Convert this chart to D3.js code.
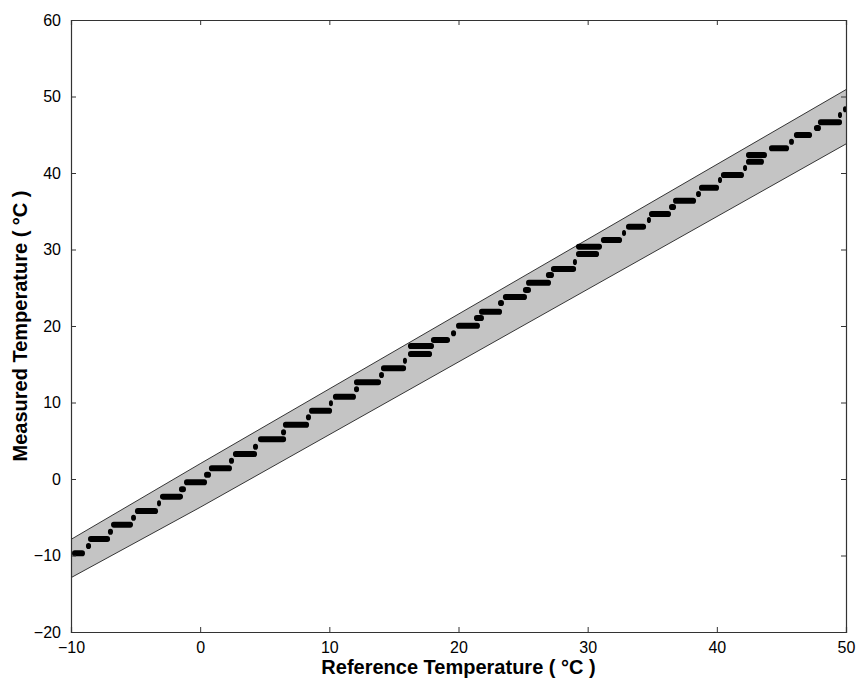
<!DOCTYPE html>
<html><head><meta charset="utf-8">
<script src="https://cdn.jsdelivr.net/npm/d3@7"></script>
<style>body{margin:0;background:#fff}svg{display:block}</style>
</head><body><svg id="c" width="858" height="683"></svg>
<script>
// Axis ticks
const xTicks = [-10, 0, 10, 20, 30, 40, 50];
const yTicks = [-20, -10, 0, 10, 20, 30, 40, 50, 60];
// Tolerance band
const bandX = [-10, 0, 50];
const bandUpper = [-7.9, 2.0, 50.9];
const bandLower = [-12.9, -3.7, 43.8];
// Measured readings (quantised steps): start x, end x, measured level
const stepStart = [-9.92,-8.84,-8.68,-7.14,-6.90,-5.35,-5.05,-3.34,-3.11,-1.64,-1.25,0.30,0.68,2.23,2.54,4.09,4.48,6.26,6.41,8.19,8.43,9.97,10.28,11.91,11.91,13.85,14.0,15.70,16.09,16.09,17.87,19.42,19.81,21.20,21.59,23.06,23.44,24.99,25.23,26.77,27.16,28.86,29.10,29.10,31.03,32.66,32.97,34.59,34.75,36.30,36.61,38.39,38.62,40.09,40.32,42.03,42.26,42.26,44.04,45.59,45.97,47.52,47.83,49.38,49.77];
const stepEnd   = [-8.92,-8.45,-6.98,-6.75,-5.20,-4.97,-3.26,-3.03,-1.33,-1.10,0.53,0.84,2.46,2.62,4.40,4.48,6.65,6.65,8.43,8.58,10.21,10.28,12.06,12.30,14.00,14.23,15.94,16.01,17.95,18.10,19.34,19.81,21.66,21.97,23.37,23.52,25.30,25.61,27.16,27.39,29.10,29.17,31.11,30.88,32.66,32.97,34.52,34.90,36.45,36.84,38.39,38.77,40.17,40.40,42.10,42.34,43.88,43.65,45.59,45.97,47.37,48.06,49.69,49.61,50.0];
const stepLevel = [-9.71,-8.76,-7.84,-6.89,-5.97,-5.06,-4.18,-3.18,-2.31,-1.35,-0.43,0.56,1.40,2.39,3.27,4.22,5.19,6.10,7.10,8.07,8.93,9.90,10.76,11.73,12.64,13.59,14.47,15.46,16.34,17.39,18.17,19.05,20.04,21.05,21.87,23.01,23.79,24.71,25.66,26.67,27.45,28.37,30.37,29.41,31.24,32.16,32.98,33.86,34.64,35.56,36.38,37.25,38.08,39.08,39.74,40.65,42.35,41.48,43.23,44.09,44.97,45.88,46.63,47.58,48.33];

const svg = d3.select("#c");
const L = 71, R = 846, T = 20, B = 632;
const x = d3.scaleLinear().domain([-10, 50]).range([L, R]);
const y = d3.scaleLinear().domain([-20, 60]).range([B, T]);

svg.append("defs").append("clipPath").attr("id","clip")
  .append("rect").attr("x",L).attr("y",T).attr("width",R-L).attr("height",B-T);

const g = svg.append("g").attr("clip-path","url(#clip)");
const band = bandX.map((v,i)=>({x:v, lo:bandLower[i], hi:bandUpper[i]}));
g.append("path").datum(band)
  .attr("d", d3.area().x(d=>x(d.x)).y0(d=>y(d.lo)).y1(d=>y(d.hi)))
  .attr("fill","#c4c4c4");
g.append("path").datum(band).attr("d", d3.line().x(d=>x(d.x)).y(d=>y(d.hi)))
  .attr("fill","none").attr("stroke","#222").attr("stroke-width",0.9);
g.append("path").datum(band).attr("d", d3.line().x(d=>x(d.x)).y(d=>y(d.lo)))
  .attr("fill","none").attr("stroke","#222").attr("stroke-width",0.9);

const steps = stepLevel.map((v,i)=>({x0:stepStart[i], x1:stepEnd[i], y:v}));
g.selectAll("rect.s").data(steps).join("rect").attr("class","s")
  .attr("x", d=>x(d.x0)).attr("width", d=>Math.max(4, x(d.x1)-x(d.x0)))
  .attr("y", d=>y(d.y)-3).attr("height", 6).attr("rx", 2.8)
  .attr("fill","#000");

// Axes (ticks inside, box)
const font = "'Liberation Sans', Arial, sans-serif";
const axB = svg.append("g").attr("transform",`translate(0,${B})`)
  .call(d3.axisBottom(x).tickValues(xTicks).tickSize(-5).tickPadding(7).tickFormat(d3.format("d")));
const axT = svg.append("g").attr("transform",`translate(0,${T})`)
  .call(d3.axisTop(x).tickValues(xTicks).tickSize(-5).tickFormat(""));
const axL = svg.append("g").attr("transform",`translate(${L},0)`)
  .call(d3.axisLeft(y).tickValues(yTicks).tickSize(-5).tickPadding(10).tickFormat(d3.format("d")));
const axR = svg.append("g").attr("transform",`translate(${R},0)`)
  .call(d3.axisRight(y).tickValues(yTicks).tickSize(-5).tickFormat(""));
[axB,axT,axL,axR].forEach(a=>{
  a.selectAll(".domain").attr("stroke","#333").attr("stroke-width",1.2);
  a.selectAll(".tick line").attr("stroke","#333");
  a.selectAll("text").attr("font-family",font).attr("font-size",16).attr("fill","#000");
});
axB.selectAll(".tick text").attr("dy","0.85em");

svg.append("text").attr("x",(L+R)/2).attr("y",674).attr("text-anchor","middle")
  .attr("font-family",font).attr("font-weight","bold").attr("font-size",20)
  .text("Reference Temperature ( °C )");
svg.append("text").attr("transform",`translate(27,${(T+B)/2}) rotate(-90)`)
  .attr("text-anchor","middle")
  .attr("font-family",font).attr("font-weight","bold").attr("font-size",20)
  .text("Measured Temperature ( °C )");
</script></body></html>
